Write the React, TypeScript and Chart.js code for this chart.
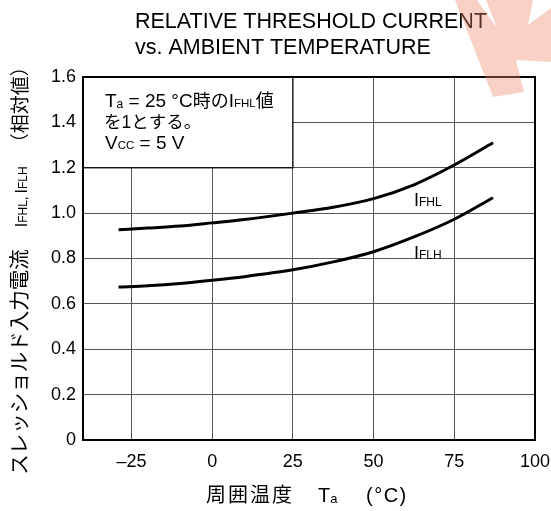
import React, { useEffect, useRef } from 'react';
import { Chart, registerables } from 'chart.js';

Chart.register(...registerables);

// ---- data ----
const temperatures = [-29, -20, -10, 0, 10, 25, 37.5, 50, 62.5, 75, 87];
const iFHL = [0.927, 0.934, 0.943, 0.957, 0.972, 1.0, 1.026, 1.064, 1.125, 1.212, 1.31];
const iFLH = [0.674, 0.68, 0.69, 0.704, 0.72, 0.75, 0.785, 0.83, 0.895, 0.973, 1.068];
const xTicks = [-25, 0, 25, 50, 75, 100];
const yTicks = [0, 0.2, 0.4, 0.6, 0.8, 1.0, 1.2, 1.4, 1.6];
const titleLines = ['RELATIVE THRESHOLD CURRENT', 'vs. AMBIENT TEMPERATURE'];
const noteLine2 = 'を1とする。';
const yTitleMain = 'スレッショルド入力電流';
const yTitleTail = '（相対値）';
const xTitleMain = '周囲温度';
const xTitleUnit = '(°C)';

const FONT = "'Liberation Sans', 'Noto Sans CJK JP', Arial, sans-serif";

type Run = { t: string; s: number; dy?: number; gap?: number };

function runsWidth(ctx: CanvasRenderingContext2D, runs: Run[]) {
  let w = 0;
  for (const r of runs) {
    if (r.gap) { w += r.gap; continue; }
    ctx.font = `${r.s}px ${FONT}`;
    w += ctx.measureText(r.t).width;
  }
  return w;
}

function drawRuns(ctx: CanvasRenderingContext2D, runs: Run[], x: number, y: number) {
  let cx = x;
  for (const r of runs) {
    if (r.gap) { cx += r.gap; continue; }
    ctx.font = `${r.s}px ${FONT}`;
    ctx.fillText(r.t, cx, y + (r.dy || 0));
    cx += ctx.measureText(r.t).width;
  }
  return cx;
}

const decorPlugin = {
  id: 'decor',
  beforeDatasetsDraw(chart: any) {
    const { ctx, scales } = chart;
    const xs = scales.x, ys = scales.y;
    const x0 = xs.getPixelForValue(-40), x1 = xs.getPixelForValue(25);
    const y0 = ys.getPixelForValue(1.6), y1 = ys.getPixelForValue(1.2);
    ctx.save();
    ctx.fillStyle = '#fff';
    ctx.fillRect(x0, y0, x1 - x0, y1 - y0);
    ctx.strokeStyle = '#000';
    ctx.lineWidth = 1.3;
    ctx.strokeRect(x0, y0, x1 - x0, y1 - y0);
    ctx.fillStyle = '#000';
    ctx.textBaseline = 'alphabetic';
    ctx.textAlign = 'left';
    const tx = x0 + 22;
    drawRuns(ctx, [
      { t: 'T', s: 19 }, { t: 'a', s: 12, dy: 1 }, { t: ' = 25 °C', s: 19 }, { t: '時の', s: 18 },
      { t: 'I', s: 19 }, { t: 'FHL', s: 11.5 }, { t: '値', s: 18 },
    ], tx, y0 + 30);
    drawRuns(ctx, [{ t: noteLine2, s: 17.5 }], tx - 1, y0 + 51);
    drawRuns(ctx, [
      { t: 'V', s: 19 }, { t: 'CC', s: 11.5 }, { t: ' = 5 V', s: 19 },
    ], tx, y0 + 72);
    ctx.restore();
  },
  afterDraw(chart: any) {
    const { ctx, chartArea, scales } = chart;
    const xs = scales.x, ys = scales.y;
    ctx.save();
    // frame
    ctx.strokeStyle = '#000';
    ctx.lineWidth = 2;
    ctx.strokeRect(chartArea.left, chartArea.top, chartArea.right - chartArea.left, chartArea.bottom - chartArea.top);

    ctx.fillStyle = '#000';
    ctx.textAlign = 'left';
    ctx.textBaseline = 'alphabetic';

    // title
    ctx.font = `21.5px ${FONT}`;
    ctx.fillText(titleLines[0], 135, 28);
    ctx.fillText(titleLines[1], 135, 54);

    // curve labels
    const lx = xs.getPixelForValue(62.5);
    drawRuns(ctx, [{ t: 'I', s: 18 }, { t: 'FHL', s: 12 }], lx, ys.getPixelForValue(1.03));
    drawRuns(ctx, [{ t: 'I', s: 18 }, { t: 'FLH', s: 12 }], lx, ys.getPixelForValue(0.80));

    // x title
    (ctx as any).letterSpacing = '2px';
    drawRuns(ctx, [{ t: xTitleMain, s: 20 }], 206, 502);
    (ctx as any).letterSpacing = '0px';
    drawRuns(ctx, [{ t: 'T', s: 20 }, { t: 'a', s: 13, dy: 1 }], 318, 502);
    (ctx as any).letterSpacing = '1.5px';
    drawRuns(ctx, [{ t: xTitleUnit, s: 20 }], 366, 502);
    (ctx as any).letterSpacing = '0px';

    // y title (rotated)
    const yRuns: Run[] = [
      { t: yTitleMain, s: 20.5 }, { t: '', s: 0, gap: 22 },
      { t: 'I', s: 16 }, { t: 'FHL, ', s: 12 }, { t: 'I', s: 16 }, { t: 'FLH', s: 12 },
      { t: '', s: 0, gap: 14 }, { t: yTitleTail, s: 19 },
    ];
    const w = runsWidth(ctx, yRuns);
    ctx.translate(20, 266);
    ctx.rotate(-Math.PI / 2);
    drawRuns(ctx, yRuns, -w / 2, 7);
    ctx.restore();

    // watermark
    ctx.save();
    ctx.fillStyle = 'rgba(237,131,105,0.38)';
    ctx.beginPath();
    const pts = [[455, 0], [477, 0], [497, 28], [486, 0], [533, 0], [528, 25], [551, 8], [551, 62], [516, 60], [524, 92], [493, 97]];
    ctx.moveTo(pts[0][0], pts[0][1]);
    for (let i = 1; i < pts.length; i++) ctx.lineTo(pts[i][0], pts[i][1]);
    ctx.closePath();
    ctx.fill();
    ctx.restore();
  },
};

export default function App() {
  const ref = useRef<HTMLCanvasElement>(null);
  useEffect(() => {
    document.body.style.margin = '0';
    const canvas = ref.current!;
    const chart = new Chart(canvas, {
      type: 'line',
      data: {
        datasets: [
          {
            label: 'IFHL',
            data: temperatures.map((t, i) => ({ x: t, y: iFHL[i] })),
            borderColor: '#000',
            borderWidth: 3,
            pointRadius: 0,
            cubicInterpolationMode: 'monotone',
          },
          {
            label: 'IFLH',
            data: temperatures.map((t, i) => ({ x: t, y: iFLH[i] })),
            borderColor: '#000',
            borderWidth: 3,
            pointRadius: 0,
            cubicInterpolationMode: 'monotone',
          },
        ],
      },
      options: {
        animation: false,
        responsive: false,
        devicePixelRatio: 1,
        layout: { padding: { top: 77, right: 16, left: 0, bottom: 0 } },
        plugins: {
          legend: { display: false },
          title: { display: false },
          tooltip: { enabled: false },
        },
        scales: {
          x: {
            type: 'linear',
            min: -40,
            max: 100,
            afterBuildTicks: (s: any) => { s.ticks = xTicks.map((v) => ({ value: v })); },
            afterFit: (s: any) => { s.height = 71; s.paddingLeft = 0; s.paddingRight = 0; },
            grid: { color: '#555', lineWidth: 1, drawTicks: false },
            border: { display: false },
            ticks: {
              padding: 11,
              color: '#000',
              font: { family: FONT, size: 18 },
              maxRotation: 0,
              callback: (v: any) => (Number(v) < 0 ? '–' + Math.abs(Number(v)) : String(v)),
            },
          },
          y: {
            type: 'linear',
            min: 0,
            max: 1.6,
            afterBuildTicks: (s: any) => { s.ticks = yTicks.map((v) => ({ value: v })); },
            afterFit: (s: any) => { s.width = 83; s.paddingTop = 0; s.paddingBottom = 0; },
            grid: { color: '#555', lineWidth: 1, drawTicks: false },
            border: { display: false },
            ticks: {
              padding: 7,
              color: '#000',
              font: { family: FONT, size: 18 },
              callback: (v: any) => (Number(v) === 0 ? '0' : Number(v).toFixed(1)),
            },
          },
        },
      } as any,
      plugins: [decorPlugin],
    });
    return () => chart.destroy();
  }, []);
  return (
    <div style={{ position: 'absolute', left: 0, top: 0, width: 551, height: 511, background: '#fff' }}>
      <canvas ref={ref} width={551} height={511} style={{ display: 'block' }} />
    </div>
  );
}
